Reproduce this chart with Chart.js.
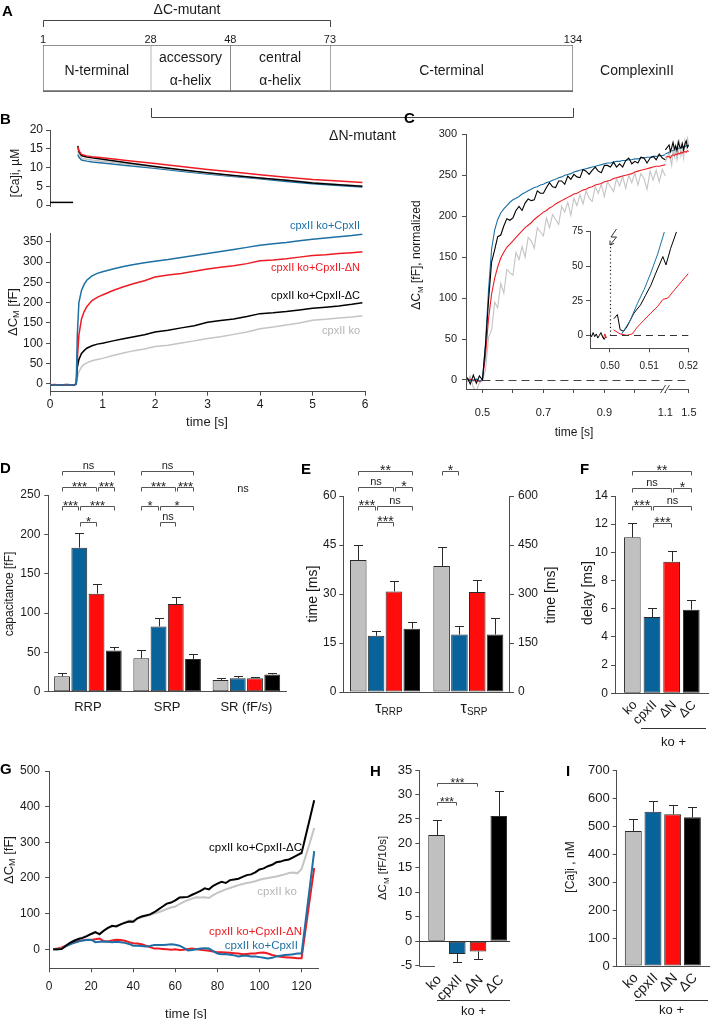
<!DOCTYPE html>
<html>
<head>
<meta charset="utf-8">
<title>Complexin II figure</title>
<script src="https://cdn.jsdelivr.net/npm/chart.js@4.4.1/dist/chart.umd.min.js"></script>
<style>
html,body{margin:0;padding:0;background:#fff;}
#wrap{position:relative;width:710px;height:1019px;overflow:hidden;background:#fff;}
#wrap canvas{position:absolute;left:0;top:0;}
.pl{position:absolute;font-family:'Liberation Sans',Arial,sans-serif;font-weight:bold;font-size:15px;line-height:15px;color:#000;z-index:50;}
</style>
</head>
<body>
<div id="wrap">
<div class="pl" style="left:2px;top:3px">A</div>
<div class="pl" style="left:0px;top:111px">B</div>
<div class="pl" style="left:404px;top:110px">C</div>
<div class="pl" style="left:0px;top:460px">D</div>
<div class="pl" style="left:301px;top:461px">E</div>
<div class="pl" style="left:580px;top:461px">F</div>
<div class="pl" style="left:0px;top:761px">G</div>
<div class="pl" style="left:370px;top:763px">H</div>
<div class="pl" style="left:566px;top:763px">I</div>
</div>
<script>
// ================= DATA =================
// Panel A : domain structure of complexin II
const domainStart = [1, 28, 48, 73];
const domainEnd = [28, 48, 73, 134];
const domainLabels = [['N-terminal'], ['accessory', 'α-helix'], ['central', 'α-helix'], ['C-terminal']];
const residueTicks = [1, 28, 48, 73, 134];
const deltaCRange = [1, 73];
const deltaNRange = [28, 134];
const proteinName = 'ComplexinII';

// Panel B : [Ca]i (µM)
const caPreTime = [0, 0.44];
const caPre = [0.7, 0.7];
const caTime = [0.53, 0.55, 0.6, 0.7, 0.8, 1.0, 1.5, 2.0, 2.5, 3.0, 3.5, 4.0, 4.5, 5.0, 5.5, 5.95];
const caRed = [15.5, 14.5, 13.5, 13.1, 12.9, 12.6, 11.8, 11.1, 10.3, 9.5, 8.8, 8.1, 7.4, 6.8, 6.4, 6.0];
const caBlack = [15.8, 14.2, 13.2, 12.8, 12.6, 12.2, 11.2, 10.3, 9.4, 8.6, 7.9, 7.2, 6.6, 5.9, 5.4, 5.0];
const caBlue = [13.5, 12.8, 12.0, 11.7, 11.5, 11.2, 10.5, 9.8, 9.0, 8.3, 7.6, 7.0, 6.3, 5.7, 5.2, 4.8];
const caGray = [14.5, 13.5, 12.5, 12.2, 12.0, 11.7, 10.9, 10.1, 9.3, 8.5, 7.8, 7.2, 6.6, 6.0, 5.5, 5.1];
const caYTicks = [0, 5, 10, 15, 20];
// Panel B : capacitance (fF)
const bTime = [0,0.1,0.2,0.3,0.4,0.45,0.5,0.52,0.55,0.6,0.65,0.7,0.8,0.9,1.0,1.2,1.4,1.6,1.8,2.0,2.25,2.5,2.75,3.0,3.25,3.5,3.75,4.0,4.25,4.5,4.75,5.0,5.25,5.5,5.75,5.95];
const bBlue = [-2,-3,-2,-3,-2,-3,0,120,200,230,245,255,266,272,276,283,289,294,298,302,306,311,316,321,326,331,336,341,345,348,352,356,359,362,365,368];
const bRed = [-2,-1,-3,-2,-2,-3,0,60,120,160,178,190,205,213,219,230,239,247,254,263,268,272,277,283,287,291,296,303,305,308,312,316,318,321,323,325];
const bBlack = [-3,-2,-3,-1,-2,-3,0,40,60,75,82,88,94,98,100,106,111,116,121,128,132,138,143,152,156,160,166,173,175,178,182,186,189,192,196,200];
const bGray = [-4,-2,-4,-3,-2,-4,0,15,30,42,48,52,57,60,63,70,76,82,86,92,95,101,106,112,116,122,128,136,140,145,150,157,159,162,165,168];
const bYTicks = [0, 50, 100, 150, 200, 250, 300, 350];
const bXTicks = [0, 1, 2, 3, 4, 5, 6];
const bNames = ['cpxII ko+CpxII', 'cpxII ko+CpxII-ΔN', 'cpxII ko+CpxII-ΔC', 'cpxII ko'];

// Panel C : normalized capacitance
const cTime = [0.45,0.46,0.47,0.48,0.49,0.50,0.51,0.52,0.53,0.54,0.55,0.56,0.57,0.58,0.59,0.60,0.61,0.62,0.63,0.64,0.65,0.66,0.67,0.68,0.69,0.70,0.71,0.72,0.73,0.74,0.75,0.76,0.77,0.78,0.79,0.80,0.81,0.82,0.83,0.84,0.85,0.86,0.87,0.88,0.89,0.90,0.91,0.92,0.93,0.94,0.95,0.96,0.97,0.98,0.99,1.00,1.01,1.02,1.03,1.04,1.05,1.06,1.07,1.08,1.09,1.10];
const cBlue = [1,-1,0,1,-1,0,45,110,160,183,196,204,209,213,217,220,222,224,227,229,231,233,235,236,238,239,241,242,244,245,247,248,250,251,252,254,255,256,257,258,259,260,261,262,263,264,265,265,266,267,267,268,268,269,269,270,270,271,271,272,272,273,273,274,274,275];
const cBlack = [3,-5,6,-4,5,0,42,97,144,159,175,177,188,197,195,198,207,212,207,216,221,219,220,231,228,228,235,241,236,235,243,243,239,249,245,251,248,247,257,255,251,256,260,255,253,262,262,260,266,260,264,260,268,271,264,267,265,272,271,265,271,273,269,276,271,269];
const cRed = [0,1,-1,0,-2,0,30,75,105,124,138,149,156,162,166,170,174,178,182,186,189,192,196,199,202,205,207,210,212,215,217,219,221,223,225,227,228,230,232,233,235,236,238,239,240,242,243,244,246,247,248,249,250,251,252,254,255,256,257,258,259,260,261,261,262,263];
const cGray = [-3,5,-9,-13,-4,0,12,52,61,95,88,118,106,135,131,128,156,147,163,150,174,170,161,186,181,176,198,186,202,196,190,212,205,217,201,222,213,226,215,231,222,218,236,228,239,224,242,236,230,246,237,249,234,250,241,253,238,252,246,233,255,244,256,242,257,249];
const cTimeR = [1.1,1.125,1.15,1.175,1.2,1.225,1.25,1.275,1.3,1.325,1.35,1.375,1.4,1.425,1.45,1.475,1.5];
const cBlackR = [281,287,279,284,290,282,286,280,291,285,283,289,281,288,292,284,287];
const cBlueR = [276,278,279,280,280,281,282,282,283,283,284,284,285,285,286,286,287];
const cRedR = [272,273,271,274,275,274,276,275,277,276,278,277,278,279,278,280,279];
const cGrayR = [266,278,270,262,281,273,285,269,277,290,274,282,271,292,283,295,286];
const cYTicks = [0, 50, 100, 150, 200, 250, 300];
const cXTicks = [0.5, 0.6, 0.7, 0.8, 0.9, 1.0, 1.1, 1.5];
const cXLabels = ['0.5', '', '0.7', '', '0.9', '', '1.1', '1.5'];
// Panel C inset
const insBlkPreT = [0.4949,0.4953,0.4957,0.4961,0.4965,0.4969,0.4973,0.4977,0.4981,0.4985,0.4989];
const insBlkPre = [1,-1,2,-1,1,-2,0,2,-1,-3,-1];
const insRedPreT = [0.4979,0.4983,0.4987,0.4991];
const insRedPre = [0,-2,1,-2];
const insBlkT = [0.5010,0.5019,0.5026,0.5035,0.5043,0.5061,0.5078,0.5091,0.5104,0.5117,0.5135,0.5143,0.5155,0.5170];
const insBlk = [12,15,4,3,6,16,22,29,36,45,57,51,63,75];
const insBluT = [0.5030,0.5052,0.5070,0.5087,0.5104,0.5122,0.5139];
const insBlu = [1,11,23,33,45,59,75];
const insRedT = [0.5009,0.5026,0.5043,0.5057,0.5070,0.5087,0.5104,0.5122,0.5135,0.5148,0.5165,0.5183,0.5204];
const insRed = [4,1,0,1,6,11,16,21,26,27,33,39,46];
const insYTicks = [0, 25, 50, 75];
const insXTicks = [0.50, 0.51, 0.52];

// Panel D : pool sizes (mean, SEM) for ko, +CpxII, +ΔN, +ΔC
const dGroups = ['RRP', 'SRP', 'SR (fF/s)'];
const dKo = [19.5, 42.4, 15.0];
const dCpx = [183, 83, 17.2];
const dDN = [124.6, 111.4, 17.2];
const dDC = [52.5, 41.5, 22.0];
const dKoErr = [4.2, 10.6, 2.7];
const dCpxErr = [18.7, 11.0, 2.2];
const dDNErr = [11.8, 9.4, 1.8];
const dDCErr = [4.7, 6.4, 2.1];
const dYTicks = [0, 50, 100, 150, 200, 250];
const dSig = [[0,0,3,0,'ns'],[0,0,2,1,'***'],[0,2,3,1,'***'],[0,0,1,2,'***'],[0,1,3,2,'***'],[0,1,2,3,'*'],
              [1,0,3,0,'ns'],[1,0,2,1,'***'],[1,2,3,1,'***'],[1,0,1,2,'*'],[1,1,3,2,'*'],[1,1,2,3,'ns']];

// Panel E : time constants
const tauRRP = [40.4, 17.2, 30.8, 19.4];
const tauRRPErr = [4.5, 1.6, 3.3, 2.0];
const tauSRP = [386, 176, 306, 176];
const tauSRPErr = [59, 26, 36, 50];
const eYTicks = [0, 15, 30, 45, 60];
const eY2Ticks = [0, 150, 300, 450, 600];
const eSig = [[0,0,3,0,'**'],[0,0,2,1,'ns'],[0,2,3,1,'*'],[0,0,1,2,'***'],[0,1,3,2,'ns'],[0,1,2,3,'***']];
const eSig2 = [[0,0,1,0,'*']];

// Panel F : delay
const delay = [11.07, 5.41, 9.34, 5.93];
const delayErr = [1.0, 0.66, 0.78, 0.66];
const fYTicks = [0, 2, 4, 6, 8, 10, 12, 14];
const fSig = [[0,0,3,0,'**'],[0,0,2,1,'ns'],[0,2,3,1,'*'],[0,0,1,2,'***'],[0,1,3,2,'ns'],[0,1,2,3,'***']];
const genoNames = ['ko', 'cpxII', 'ΔN', 'ΔC'];

// Panel G : long-term capacitance
const gTime = [2,4,6,8,10,12,14,16,18,20,22,24,26,28,30,32,34,36,38,40,42,44,46,48,50,52,54,56,58,60,62,64,66,68,70,72,74,76,78,80,82,84,86,88,90,92,94,96,98,100,102,104,106,108,110,112,114,116,118,120,122,124,126];
const gBlack = [0,0,1,10,18,24,29,32,37,43,48,42,52,60,66,64,70,74,78,77,87,92,95,98,104,112,120,128,131,137,145,146,147,153,158,164,171,168,178,184,189,186,194,196,198,203,208,210,216,224,227,233,237,244,246,250,252,258,264,270,319,368,418];
const gGray = [0,0,2,10,19,25,30,33,38,42,47,45,53,60,64,66,70,76,80,80,86,90,93,96,100,104,108,113,117,120,127,133,138,142,146,145,146,144,152,158,163,168,172,176,180,183,186,188,191,195,198,200,202,204,207,210,214,215,213,225,262,300,340];
const gBlue = [0,0,2,8,14,18,22,25,26,27,20,21,22,21,20,21,20,18,15,10,10,9,8,9,12,12,12,13,14,13,10,4,-3,-2,0,2,3,2,-5,-12,-14,-13,-15,-17,-20,-18,-18,-20,-20,-22,-24,-26,-24,-20,-18,-16,-15,-14,-12,-12,83,179,275];
const gRed = [0,2,5,10,15,20,23,25,27,26,28,30,23,22,25,27,26,24,20,17,16,14,10,6,2,2,1,0,-1,0,-2,-1,1,2,0,-1,-3,-4,-6,-8,-8,-9,-10,-11,-12,-14,-13,-12,-12,-10,-9,-12,-16,-19,-21,-22,-23,-24,-25,-25,60,145,228];
const gYTicks = [0, 100, 200, 300, 400, 500];
const gXTicks = [0, 20, 40, 60, 80, 100, 120];

// Panel H : capacitance drift
const drift = [21.7, -2.6, -2.1, 25.6];
const driftErr = [3.1, 1.7, 1.6, 5.2];
const hYTicks = [-5, 0, 5, 10, 15, 20, 25, 30, 35];
const hSig = [[0,0,2,0,'***'],[0,0,1,1,'***']];

// Panel I : resting [Ca]i
const restCa = [484, 553, 544, 533];
const restCaErr = [42, 40, 33, 38];
const iYTicks = [0, 100, 200, 300, 400, 500, 600, 700];

// ================= HELPERS =================
const FF = "'Liberation Sans', Arial, Helvetica, sans-serif";
const W = 710, H = 1019;
const XH = 34;
const AX = '#4d4d4d', TC = '#1a1a1a', SC = '#555555';
const BAR = ['#c0c0c0', '#08639a', '#ff0d0d', '#000000'];
const LINE = {ko: '#c4c4c4', cpx: '#1c70a3', dN: '#ee1b23', dC: '#000000'};
const ROT = -Math.PI / 2;

function newCtx() {
  const c = document.createElement('canvas');
  c.width = W; c.height = H;
  document.getElementById('wrap').appendChild(c);
  return c.getContext('2d');
}
function pad(area, yl, yr, xh) {
  return {left: area[0] - yl, top: area[1], right: W - area[2] - yr, bottom: H - area[3] - xh};
}
function mk(area, axes, cfg, draw) {
  const ctx = newCtx();
  const o = cfg.options = cfg.options || {};
  o.responsive = false; o.maintainAspectRatio = false; o.animation = false; o.events = []; o.devicePixelRatio = 1;
  o.layout = {padding: pad(area, axes[0], axes[1], axes[2]), autoPadding: false};
  o.plugins = {legend: {display: false}, tooltip: {enabled: false}, title: {display: false}};
  if (draw) cfg.plugins = [{id: 'deco', afterDraw(c) { const g = c.ctx; g.save(); draw(c, g); g.restore(); }}];
  return new Chart(ctx, cfg);
}
function lin(min, max, ticks, o = {}) {
  const horiz = !!o.horiz;
  const shown = o.display !== false;
  return {
    type: 'linear', min, max, position: o.position || (horiz ? 'bottom' : 'left'), display: shown,
    afterFit: s => { if (horiz) s.height = shown ? XH : 0; else s.width = shown ? (o.size ?? 40) : 0; },
    afterBuildTicks: s => { s.ticks = ticks.map(v => ({value: v})); },
    border: {display: true, color: AX, width: 1},
    grid: {display: true, drawOnChartArea: false, drawTicks: true, tickLength: 4, tickColor: AX, tickWidth: 1},
    ticks: {font: {size: o.fs || 12, family: FF}, color: TC, padding: o.pad ?? 3, autoSkip: false,
            maxRotation: 0, minRotation: 0, callback: o.cb || (v => String(v))}
  };
}
function cat(o = {}) {
  return {
    type: 'category', display: true, position: 'bottom',
    afterFit: s => { s.height = XH; },
    border: {display: o.border !== false, color: AX, width: 1},
    grid: {display: false, drawTicks: false},
    ticks: {display: !!o.labels, font: {size: o.fs || 12, family: FF}, color: TC, padding: o.pad ?? 0,
            autoSkip: false, maxRotation: 0, minRotation: 0}
  };
}
function line(xs, ys, color, w, map) {
  return {data: xs.map((x, i) => ({x: map ? map(x) : x, y: ys[i]})), borderColor: color, borderWidth: w,
          pointRadius: 0, fill: false, tension: 0};
}
function bars(vals, bp, cp) {
  return vals.map((v, i) => ({data: v, backgroundColor: BAR[i], borderColor: '#2a2a2a', borderWidth: 1,
    borderSkipped: false, barPercentage: bp, categoryPercentage: cp}));
}
function rich(g, parts, x, y, o = {}) {
  const size0 = parts[0][1];
  g.save(); g.translate(x, y); if (o.rot) g.rotate(o.rot);
  g.fillStyle = o.color || TC; g.textBaseline = 'alphabetic'; g.textAlign = 'left';
  const ws = parts.map(p => { g.font = (o.weight || 'normal') + ' ' + p[1] + 'px ' + FF; return g.measureText(p[0]).width; });
  const tot = ws.reduce((a, b) => a + b, 0);
  let cx = o.align === 'right' ? -tot : o.align === 'left' ? 0 : -tot / 2;
  const by = 0.36 * size0;
  parts.forEach((p, i) => { g.font = (o.weight || 'normal') + ' ' + p[1] + 'px ' + FF; g.fillText(p[0], cx, by + (p[2] || 0)); cx += ws[i]; });
  g.restore();
}
function txt(g, s, x, y, o = {}) { rich(g, [[s, o.size || 12]], x, y, o); }
function errs(c, g, E, cap = 4.5) {
  g.save(); g.strokeStyle = '#2a2a2a'; g.lineWidth = 1;
  c.data.datasets.forEach((ds, i) => {
    const m = c.getDatasetMeta(i); const sc = c.scales[m.yAxisID];
    m.data.forEach((el, j) => {
      const v = ds.data[j], e = E[i][j], s = v < 0 ? -1 : 1;
      const y0 = sc.getPixelForValue(v), y1 = Math.round(sc.getPixelForValue(v + s * e)) + 0.5, x = Math.round(el.x) + 0.5;
      g.beginPath(); g.moveTo(x, y0); g.lineTo(x, y1); g.moveTo(x - cap, y1); g.lineTo(x + cap, y1); g.stroke();
    });
  });
  g.restore();
}
function sig(c, g, list, rows, tick, starSize) {
  g.save(); g.strokeStyle = SC; g.lineWidth = 1;
  list.forEach(([grp, a, b, r, lab]) => {
    const xa = Math.round(c.getDatasetMeta(a).data[grp].x) + 0.5 + (a > 0 ? 1 : 0);
    const xb = Math.round(c.getDatasetMeta(b).data[grp].x) + 0.5 - (b < 3 ? 1 : 0);
    const y = Math.round(rows[r]) + 0.5;
    g.beginPath(); g.moveTo(xa, y + tick); g.lineTo(xa, y); g.lineTo(xb, y); g.lineTo(xb, y + tick); g.stroke();
    g.fillStyle = '#222'; g.textAlign = 'center'; g.textBaseline = 'alphabetic';
    if (lab.indexOf('*') >= 0) { g.font = starSize + 'px ' + FF; g.fillText(lab, (xa + xb) / 2, y + 3.5); }
    else { g.font = '11px ' + FF; g.fillText(lab, (xa + xb) / 2, y - 3); }
  });
  g.restore();
}
function rotLabels(c, g, dy, size) {
  const y = c.chartArea.bottom + dy;
  genoNames.forEach((n, i) => { const x = c.getDatasetMeta(i).data[0].x; txt(g, n, x + 2, y, {size: size, align: 'right', rot: -Math.PI / 4}); });
}
function koPlus(g, x0, x1, y, ty) {
  g.save(); g.strokeStyle = '#333'; g.lineWidth = 1;
  g.beginPath(); g.moveTo(x0, Math.round(y) + 0.5); g.lineTo(x1, Math.round(y) + 0.5); g.stroke(); g.restore();
  txt(g, 'ko +', (x0 + x1) / 2, ty, {size: 13});
}
function hline(g, x0, x1, y, color, dash) {
  g.save(); g.strokeStyle = color; g.lineWidth = 1; if (dash) g.setLineDash(dash);
  g.beginPath(); g.moveTo(x0, Math.round(y) + 0.5); g.lineTo(x1, Math.round(y) + 0.5); g.stroke(); g.restore();
}
const dCmTitle = (s, sz) => [['ΔC', sz], ['M', Math.round(sz * 0.7), 2.5], [s, sz]];

// ================= PANEL A =================
mk([43, 45, 573, 92], [0, 0, 0], {
  type: 'bar',
  data: {labels: [''], datasets: domainStart.map((s, i) => ({
    data: [[s, domainEnd[i]]], backgroundColor: '#ffffff', borderColor: '#6b6b6b',
    borderWidth: {top: 1, bottom: 2, left: 1, right: i === domainStart.length - 1 ? 1 : 0},
    borderSkipped: false, grouped: false, barPercentage: 1, categoryPercentage: 1}))},
  options: {indexAxis: 'y', scales: {x: {type: 'linear', min: 1, max: 134, display: false}, y: {type: 'category', display: false}}}
}, (c, g) => {
  const sx = c.scales.x;
  domainLabels.forEach((L, i) => {
    const cx = (sx.getPixelForValue(domainStart[i]) + sx.getPixelForValue(domainEnd[i])) / 2;
    if (L.length === 1) txt(g, L[0], cx, 69.5, {size: 14});
    else { txt(g, L[0], cx, 57, {size: 14}); txt(g, L[1], cx, 80, {size: 14}); }
  });
  residueTicks.forEach(r => txt(g, String(r), sx.getPixelForValue(r), 39.5, {size: 11}));
  g.strokeStyle = '#444'; g.lineWidth = 1;
  const a0 = Math.round(sx.getPixelForValue(deltaCRange[0])) + 0.5, a1 = Math.round(sx.getPixelForValue(deltaCRange[1])) + 0.5;
  g.beginPath(); g.moveTo(a0, 27); g.lineTo(a0, 20.5); g.lineTo(a1, 20.5); g.lineTo(a1, 27); g.stroke();
  txt(g, 'ΔC-mutant', (a0 + a1) / 2, 9, {size: 14});
  const b0 = Math.round(sx.getPixelForValue(deltaNRange[0])) + 0.5, b1 = Math.round(sx.getPixelForValue(deltaNRange[1])) + 0.5;
  g.beginPath(); g.moveTo(b0, 108); g.lineTo(b0, 117.5); g.lineTo(b1, 117.5); g.lineTo(b1, 108); g.stroke();
  txt(g, 'ΔN-mutant', (b0 + b1) / 2, 135, {size: 14});
  txt(g, proteinName, 637, 70, {size: 14});
});

// ================= PANEL B (top) =================
mk([50, 130, 365, 206.9], [40, 0, 0], {
  type: 'line',
  data: {datasets: [line(caTime, caRed, LINE.dN, 1.5), line(caTime, caBlack, LINE.dC, 1.5), line(caTime, caGray, LINE.ko, 1.5),
                    line(caTime, caBlue, LINE.cpx, 1.5), line(caPreTime, caPre, '#000', 1.5)]},
  options: {scales: {x: lin(0, 6, bXTicks, {horiz: true, display: false}), y: lin(-0.5, 20, caYTicks, {pad: 3})}}
}, (c, g) => { txt(g, '[Ca]i, µM', 15, 173, {size: 12, rot: ROT}); });

// ================= PANEL B (bottom) =================
mk([50, 233.3, 365, 391.7], [40, 0, XH], {
  type: 'line',
  data: {datasets: [line(bTime, bBlue, LINE.cpx, 1.5), line(bTime, bRed, LINE.dN, 1.5), line(bTime, bBlack, LINE.dC, 1.5), line(bTime, bGray, LINE.ko, 1.5)]},
  options: {scales: {x: lin(0, 6, bXTicks, {horiz: true, pad: 2}), y: lin(-19, 370.6, bYTicks, {pad: 3})}}
}, (c, g) => {
  txt(g, bNames[0], 360, 225, {size: 11, align: 'right', color: LINE.cpx});
  txt(g, bNames[1], 360, 266.7, {size: 11, align: 'right', color: LINE.dN});
  txt(g, bNames[2], 360, 295, {size: 11, align: 'right', color: '#000'});
  txt(g, bNames[3], 360, 330, {size: 11, align: 'right', color: '#b5b5b5'});
  rich(g, dCmTitle(' [fF]', 13), 12, 312, {rot: ROT});
  txt(g, 'time [s]', 207, 421, {size: 13});
});

// ================= PANEL C =================
const cBreak = 1.1, cResume = 1.108, cSqueeze = 0.173;
const cMap = t => t <= cBreak ? t : cResume + (t - cBreak) * cSqueeze;
mk([466, 134.3, 701.7, 389], [40, 0, XH], {
  type: 'line',
  data: {datasets: [
    line(cTime, cBlack, LINE.dC, 1.1, cMap), line(cTime, cBlue, LINE.cpx, 1.1, cMap), line(cTime, cRed, LINE.dN, 1.1, cMap), line(cTime, cGray, LINE.ko, 1.1, cMap),
    line(cTimeR, cBlackR, LINE.dC, 1.1, cMap), line(cTimeR, cBlueR, LINE.cpx, 1.1, cMap), line(cTimeR, cRedR, LINE.dN, 1.1, cMap), line(cTimeR, cGrayR, LINE.ko, 1.1, cMap)]},
  options: {scales: {
    x: lin(0.446, cMap(1.5), cXTicks.map(cMap), {horiz: true, fs: 11, pad: 13.5, cb: (v, i) => cXLabels[i]}),
    y: lin(-11, 300, cYTicks, {fs: 11, pad: 5})}}
}, (c, g) => {
  const sx = c.scales.x, sy = c.scales.y;
  hline(g, sx.getPixelForValue(0.5), sx.getPixelForValue(cMap(1.5)), sy.getPixelForValue(0), '#444', [8, 5]);
  const xb = sx.getPixelForValue(1.104), yb = c.chartArea.bottom;
  g.fillStyle = '#fff'; g.fillRect(xb - 3, yb - 2, 5, 4);
  g.strokeStyle = AX; g.lineWidth = 1;
  g.beginPath(); g.moveTo(xb - 6, yb + 4); g.lineTo(xb - 1, yb - 4); g.moveTo(xb - 2, yb + 4); g.lineTo(xb + 3, yb - 4); g.stroke();
  rich(g, dCmTitle(' [fF], normalized', 12), 416, 255, {rot: ROT});
  txt(g, 'time [s]', 574, 432, {size: 12});
});

// ================= PANEL C inset =================
mk([590, 231.7, 688.3, 348.3], [30, 0, XH], {
  type: 'line',
  data: {datasets: [line(insBluT, insBlu, LINE.cpx, 1), line(insBlkT, insBlk, LINE.dC, 1), line(insBlkPreT, insBlkPre, LINE.dC, 1),
                    line(insRedT, insRed, LINE.dN, 1), line(insRedPreT, insRedPre, LINE.dN, 1)]},
  options: {scales: {
    x: lin(0.4949, 0.52, insXTicks, {horiz: true, fs: 10, pad: 8.4, cb: v => v.toFixed(2)}),
    y: lin(-9.4, 75, insYTicks, {fs: 10, pad: 3, size: 30})}}
}, (c, g) => {
  const sx = c.scales.x, sy = c.scales.y;
  hline(g, sx.getPixelForValue(0.5), sx.getPixelForValue(0.52), sy.getPixelForValue(0), '#333', [7, 5]);
  const xs = Math.round(sx.getPixelForValue(0.5)) + 0.5;
  g.save(); g.strokeStyle = '#222'; g.lineWidth = 1.2; g.setLineDash([1.2, 2.6]);
  g.beginPath(); g.moveTo(xs, 247); g.lineTo(xs, sy.getPixelForValue(0)); g.stroke(); g.restore();
  g.save(); g.strokeStyle = '#333'; g.lineWidth = 1;
  g.beginPath(); g.moveTo(xs + 6, 229); g.lineTo(xs + 0.5, 237); g.lineTo(xs + 6, 237); g.lineTo(xs - 0.5, 245);
  g.moveTo(xs - 0.5, 245); g.lineTo(xs - 0.5, 240.5); g.moveTo(xs - 0.5, 245); g.lineTo(xs + 3.5, 243.5); g.stroke(); g.restore();
});

// ================= PANEL D =================
mk([48.3, 495, 286, 691.7], [40, 0, XH], {
  type: 'bar',
  data: {labels: dGroups, datasets: bars([dKo, dCpx, dDN, dDC], 0.92, 0.87)},
  options: {scales: {x: cat({labels: true, fs: 13, pad: 7.5}), y: lin(0, 250, dYTicks, {pad: 4})}}
}, (c, g) => {
  errs(c, g, [dKoErr, dCpxErr, dDNErr, dDCErr]);
  sig(c, g, dSig, [470.7, 486.7, 505.7, 521.7], 4, 13);
  txt(g, 'ns', 243, 488, {size: 11});
  txt(g, 'capacitance [fF]', 9, 594, {size: 12, rot: ROT});
});

// ================= PANEL E =================
mk([343.3, 496, 426.7, 692], [40, 0, XH], {
  type: 'bar',
  data: {labels: [''], datasets: bars(tauRRP.map(v => [v]), 0.93, 0.855)},
  options: {scales: {x: cat(), y: lin(0, 60, eYTicks, {pad: 3})}}
}, (c, g) => {
  errs(c, g, tauRRPErr.map(e => [e]));
  sig(c, g, eSig, [470.7, 486.7, 506, 522.3], 4, 14);
  txt(g, 'time [ms]', 311.7, 594, {size: 14, rot: ROT});
  rich(g, [['τ', 16], ['RRP', 10, 2]], 389, 707);
});
mk([426.7, 496, 510, 692], [0, 40, XH], {
  type: 'bar',
  data: {labels: [''], datasets: bars(tauSRP.map(v => [v]), 0.93, 0.855)},
  options: {scales: {x: cat(), y: lin(0, 600, eY2Ticks, {position: 'right', pad: 4})}}
}, (c, g) => {
  errs(c, g, tauSRPErr.map(e => [e]));
  sig(c, g, eSig2, [470.7], 4, 14);
  txt(g, 'time [ms]', 550, 595, {size: 14, rot: ROT});
  rich(g, [['τ', 16], ['SRP', 10, 2]], 474, 707);
});

// ================= PANEL F =================
mk([615, 496, 708.6, 693.2], [40, 0, XH], {
  type: 'bar',
  data: {labels: [''], datasets: bars(delay.map(v => [v]), 0.85, 0.84)},
  options: {scales: {x: cat(), y: lin(0, 14, fYTicks, {pad: 3})}}
}, (c, g) => {
  errs(c, g, delayErr.map(e => [e]));
  sig(c, g, fSig, [471, 488.3, 506, 523.3], 4, 14);
  txt(g, 'delay [ms]', 586.7, 593, {size: 14, rot: ROT});
  rotLabels(c, g, 9, 13);
  koPlus(g, 641, 706, 728, 741);
});

// ================= PANEL G =================
mk([49, 771, 318, 968.3], [40, 0, XH], {
  type: 'line',
  data: {datasets: [line(gTime, gBlack, LINE.dC, 2), line(gTime, gGray, LINE.ko, 2), line(gTime, gBlue, LINE.cpx, 2), line(gTime, gRed, LINE.dN, 2)]},
  options: {scales: {x: lin(0, 127.8, gXTicks, {horiz: true, pad: 7.2}), y: lin(-53.3, 500, gYTicks, {pad: 5})}}
}, (c, g) => {
  txt(g, 'cpxII ko+CpxII-ΔC', 302, 847, {size: 11.5, align: 'right', color: '#000'});
  txt(g, 'cpxII ko', 297, 891, {size: 11.5, align: 'right', color: '#b5b5b5'});
  txt(g, 'cpxII ko+CpxII-ΔN', 302, 930.7, {size: 11.5, align: 'right', color: LINE.dN});
  txt(g, 'cpxII ko+CpxII', 298, 945, {size: 11.5, align: 'right', color: LINE.cpx});
  rich(g, dCmTitle(' [fF]', 13), 8, 860, {rot: ROT});
  txt(g, 'time [s]', 186, 1013, {size: 13});
});

// ================= PANEL H =================
mk([419.3, 770, 516, 965.7], [40, 0, XH], {
  type: 'bar',
  data: {labels: [''], datasets: bars(drift.map(v => [v]), 0.80, 0.858)},
  options: {scales: {x: cat({border: false}), y: lin(-5, 35, hYTicks, {fs: 13, pad: 3})}}
}, (c, g) => {
  const sy = c.scales.y;
  hline(g, c.chartArea.left, 510, sy.getPixelForValue(0), '#333');
  hline(g, c.chartArea.left, 435, c.chartArea.bottom, AX);
  errs(c, g, driftErr.map(e => [e]));
  sig(c, g, hSig, [782.7, 801.7], 3, 12);
  rich(g, dCmTitle(' [fF/10s]', 11.5), 382, 868, {rot: ROT});
  rotLabels(c, g, 11, 14);
  koPlus(g, 437, 510, 1000, 1010);
});

// ================= PANEL I =================
mk([616.7, 770.7, 709, 966], [40, 0, XH], {
  type: 'bar',
  data: {labels: [''], datasets: bars(restCa.map(v => [v]), 0.86, 0.854)},
  options: {scales: {x: cat(), y: lin(0, 700, iYTicks, {fs: 13, pad: 3})}}
}, (c, g) => {
  errs(c, g, restCaErr.map(e => [e]));
  txt(g, '[Ca]i , nM', 569.3, 867, {size: 12, rot: ROT});
  rotLabels(c, g, 9, 14);
  koPlus(g, 635, 708, 1000, 1009);
});
</script>
</body>
</html>
